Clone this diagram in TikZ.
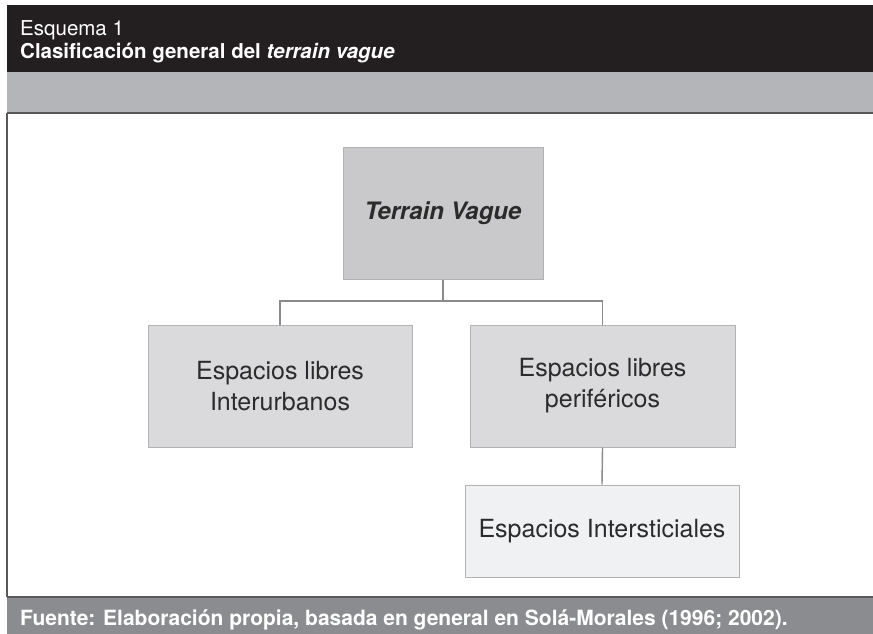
\documentclass[tikz,border=0pt]{standalone}
\usepackage{fontspec}
\setmainfont{TeX Gyre Heros}
\usetikzlibrary{positioning}
\definecolor{headblack}{HTML}{231F20}
\definecolor{bandgray}{HTML}{B4B5B8}
\definecolor{rulegray}{HTML}{58585A}
\definecolor{footgray}{HTML}{8B8C8F}
\definecolor{topfill}{HTML}{C9C9CB}
\definecolor{midfill}{HTML}{DADADC}
\definecolor{lowfill}{HTML}{F0F1F3}
\definecolor{boxline}{HTML}{B2B2B4}
\definecolor{linkgray}{HTML}{8A8A8C}
\definecolor{boxtext}{HTML}{2B2B2B}
\tikzset{schemebox/.style={draw=boxline, line width=1pt, text=boxtext,
                           align=center, inner sep=0pt},
         boxfont/.style={font=\fontsize{25}{31}\selectfont},
         link/.style={draw=linkgray, line width=1.4pt},
         headtext/.style={anchor=base west, inner sep=0pt, text=white}}

\begin{document}
\begin{tikzpicture}[x=1pt,y=-1pt]
\useasboundingbox (0,0) rectangle (873,634);
% frame
\fill[headblack] (7,5) rectangle (873,72);
\fill[bandgray] (7,72) rectangle (873,113);
\fill[footgray] (7,597) rectangle (873,634);
\draw[rulegray,line width=1.5pt] (7,113)--(873,113);
\draw[rulegray,line width=1.5pt] (7,597)--(873,597);
\draw[rulegray,line width=1.2pt] (7,113)--(7,597);
% titles
\node[headtext, font=\fontsize{20.5}{24}\selectfont] (esquema) at (20,36) {Esquema 1};
\node[headtext, font=\bfseries\fontsize{20.5}{24}\selectfont] (titulo) at (20,59)
  {Clasificación general del \textit{terrain vague}};
\node[headtext, font=\bfseries\fontsize{21}{25}\selectfont] (fuente) at (20,625)
  {Fuente: Elaboración propia, basada en general en Solá-Morales (1996; 2002).};
% boxes
\node[schemebox, fill=topfill, minimum width=200pt, minimum height=132pt,
      font=\bfseries\itshape\fontsize{24}{28}\selectfont] (terrain) at (443,213) {Terrain Vague};
\node[schemebox, boxfont, fill=midfill, minimum width=264pt, minimum height=122pt]
  (interurb) at (280,386) {Espacios libres\\Interurbanos};
\node[schemebox, boxfont, fill=midfill, minimum width=265pt, minimum height=122pt]
  (perif) at (602.5,386) {Espacios libres\\periféricos};
\node[schemebox, boxfont, fill=lowfill, minimum width=274pt, minimum height=92pt]
  (intersti) at (602,531) {Espacios Intersticiales};
% links
\coordinate (fork) at (443,301);
\draw[link] (terrain.south)--(fork);
\draw[link] (fork) -| (interurb.north);
\draw[link] (fork) -| (perif.north);
\draw[link] (perif.south)--(intersti.north);
\end{tikzpicture}
\end{document}
